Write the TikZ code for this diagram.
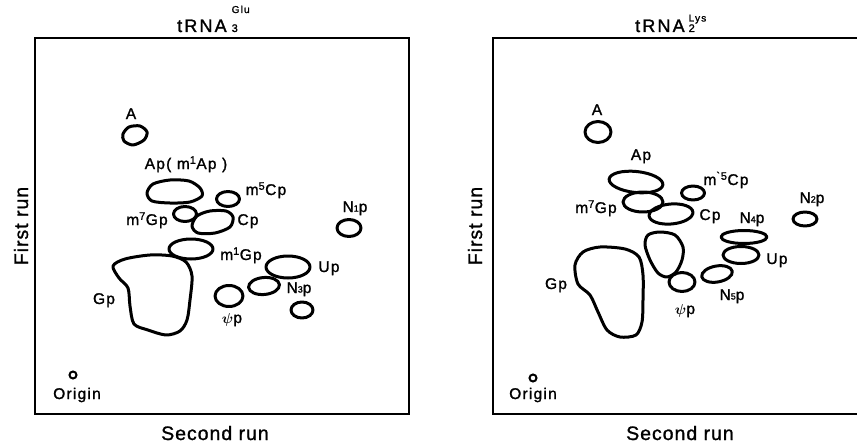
\documentclass[tikz,border=0pt]{standalone}
\usepackage{amsmath}
\usepackage{fontspec}
\setmainfont{Liberation Sans}
\newfontfamily\spotlabfont[LetterSpace=8,FakeBold=1.4]{Liberation Sans}
\newfontfamily\axislabfont[LetterSpace=5,FakeBold=1.2]{Liberation Sans}
\newfontfamily\titlefont[LetterSpace=12,FakeBold=1.4]{Liberation Sans}
\newcommand\smalldigit[1]{\raisebox{0.5pt}{\fontsize{9}{9}\selectfont #1}}
\begin{document}
\begin{tikzpicture}[x=1pt,y=-1pt,
  spot/.style={line width=3pt, line join=round},
  frame/.style={line width=1.2pt},
  lab/.style={font=\spotlabfont\fontsize{15.5}{16}\selectfont, anchor=base, inner sep=0pt},
  axlab/.style={font=\axislabfont\fontsize{19.5}{20}\selectfont, anchor=base, inner sep=0pt},
  ttl/.style={font=\titlefont\fontsize{18}{18}\selectfont, anchor=base west, inner sep=0pt}]
\useasboundingbox (0,0) rectangle (857,444);

% ---------- left chromatogram ----------
\draw[frame] (35,38) rectangle (409,414);
\node[ttl] (tL) at (177,32) {tRNA\kern5pt\rlap{\raisebox{19pt}{\fontsize{10}{10}\selectfont Glu}}{\fontsize{11}{11}\selectfont 3}};
\node[axlab] (xL) at (215,440) {Second run};
\node[axlab, rotate=90] (yL) at (28,226) {First run};

\draw[spot] plot[smooth cycle] coordinates {(123,134) (129,127) (140,126) (147,132) (144,140) (133,145) (124,141)};
\draw[spot] plot[smooth cycle] coordinates {(147,193) (153,184) (170,180) (189,181) (200,188) (202,196) (190,202) (170,203) (152,201)};
\draw[spot] (228,199) circle [x radius=11.5pt, y radius=7.5pt];
\draw[spot] (185,214) circle [x radius=11.5pt, y radius=7.5pt];
\draw[spot] plot[smooth cycle] coordinates {(192,226) (197,216) (210,211) (226,211) (233,217) (230,227) (215,233) (198,233)};
\draw[spot] (191,249) circle [x radius=22pt, y radius=10pt];
\draw[spot] plot[smooth cycle] coordinates {(113,266) (125,259) (150,255) (172,256) (186,262) (192,276) (190,300) (187,320) (180,331) (166,335) (148,330) (134,324) (130,306) (128,288) (119,278)};
\draw[spot] (229,296) circle [x radius=14pt, y radius=10.5pt];
\draw[spot] (288,267) circle [x radius=22pt, y radius=11pt];
\draw[spot] (264,286) circle [x radius=15.5pt, y radius=8.5pt, rotate=5];
\draw[spot] (302,310) circle [x radius=11pt, y radius=8pt];
\draw[spot] (349,228) circle [x radius=12pt, y radius=8.5pt];
\draw[line width=2pt] (73,375) circle [radius=3.5pt];

\node[lab] (lA1) at (131,119) {A};
\node[lab] (lAp1) at (186,169) {Ap( m\textsuperscript{1}Ap )};
\node[lab] (lmC1) at (266,195) {m\textsuperscript{5}Cp};
\node[lab] (lmG1) at (147,225) {m\textsuperscript{7}Gp};
\node[lab] (lCp1) at (248,225) {Cp};
\node[lab] (lm1G1) at (241,260) {m\textsuperscript{1}Gp};
\node[lab] (lN1) at (355,212) {N\smalldigit{1}p};
\node[lab] (lUp1) at (329,272) {Up};
\node[lab] (lN3) at (299,293) {N\smalldigit{3}p};
\node[lab] (lpsi1) at (232,323) {$\boldsymbol{\psi}$p};
\node[lab] (lGp1) at (104,304) {Gp};
\node[lab] (lO1) at (77,399) {Origin};

% ---------- right chromatogram ----------
\draw[frame] (857,38) -- (493,38) -- (493,414) -- (857,414);
\node[ttl] (tR) at (635,32) {tRNA\kern4pt\rlap{\raisebox{10.5pt}{\fontsize{10}{10}\selectfont Lys}}{\fontsize{11}{11}\selectfont 2}};
\node[axlab] (xR) at (680,440) {Second run};
\node[axlab, rotate=90] (yR) at (482,226) {First run};

\draw[spot] (598,132) circle [x radius=13pt, y radius=10.5pt];
\draw[spot] (636,182) circle [x radius=27pt, y radius=10.5pt, rotate=-6];
\draw[spot] (693,193) circle [x radius=11.5pt, y radius=7pt];
\draw[spot] (643,202) circle [x radius=20pt, y radius=10pt];
\draw[spot] (671,214) circle [x radius=22pt, y radius=10pt, rotate=5];
\draw[spot] (805,219) circle [x radius=12pt, y radius=7pt];
\draw[spot] (744,237) circle [x radius=23pt, y radius=6.5pt];
\draw[spot] (741,255) circle [x radius=18pt, y radius=8.5pt];
\draw[spot] (717,274) circle [x radius=15.5pt, y radius=8pt, rotate=10];
\draw[spot] plot[smooth cycle] coordinates {(648,235) (660,232) (675,235) (683,247) (682,260) (676,272) (667,277) (658,273) (650,260) (645,245)};
\draw[spot] (682,282) circle [x radius=13pt, y radius=9.5pt];
\draw[spot] plot[smooth cycle] coordinates {(575,265) (583,252) (600,247) (625,249) (639,257) (643,275) (643,300) (642,322) (636,335) (620,337) (607,330) (598,312) (590,295) (578,284)};
\draw[line width=2pt] (533,378) circle [radius=3.5pt];

\node[lab] (lA2) at (597,115) {A};
\node[lab] (lAp2) at (641,160) {Ap};
\node[lab] (lmC2) at (726,185) {m\textsuperscript{`5}Cp};
\node[lab] (lmG2) at (596,213) {m\textsuperscript{7}Gp};
\node[lab] (lCp2) at (710,220) {Cp};
\node[lab] (lN4) at (752,223) {N\smalldigit{4}p};
\node[lab] (lN2) at (812,203) {N\smalldigit{2}p};
\node[lab] (lUp2) at (777,264) {Up};
\node[lab] (lN5) at (732,300) {N\smalldigit{5}p};
\node[lab] (lpsi2) at (685,314) {$\boldsymbol{\psi}$p};
\node[lab] (lGp2) at (556,289) {Gp};
\node[lab] (lO2) at (533,399) {Origin};
\end{tikzpicture}
\end{document}
